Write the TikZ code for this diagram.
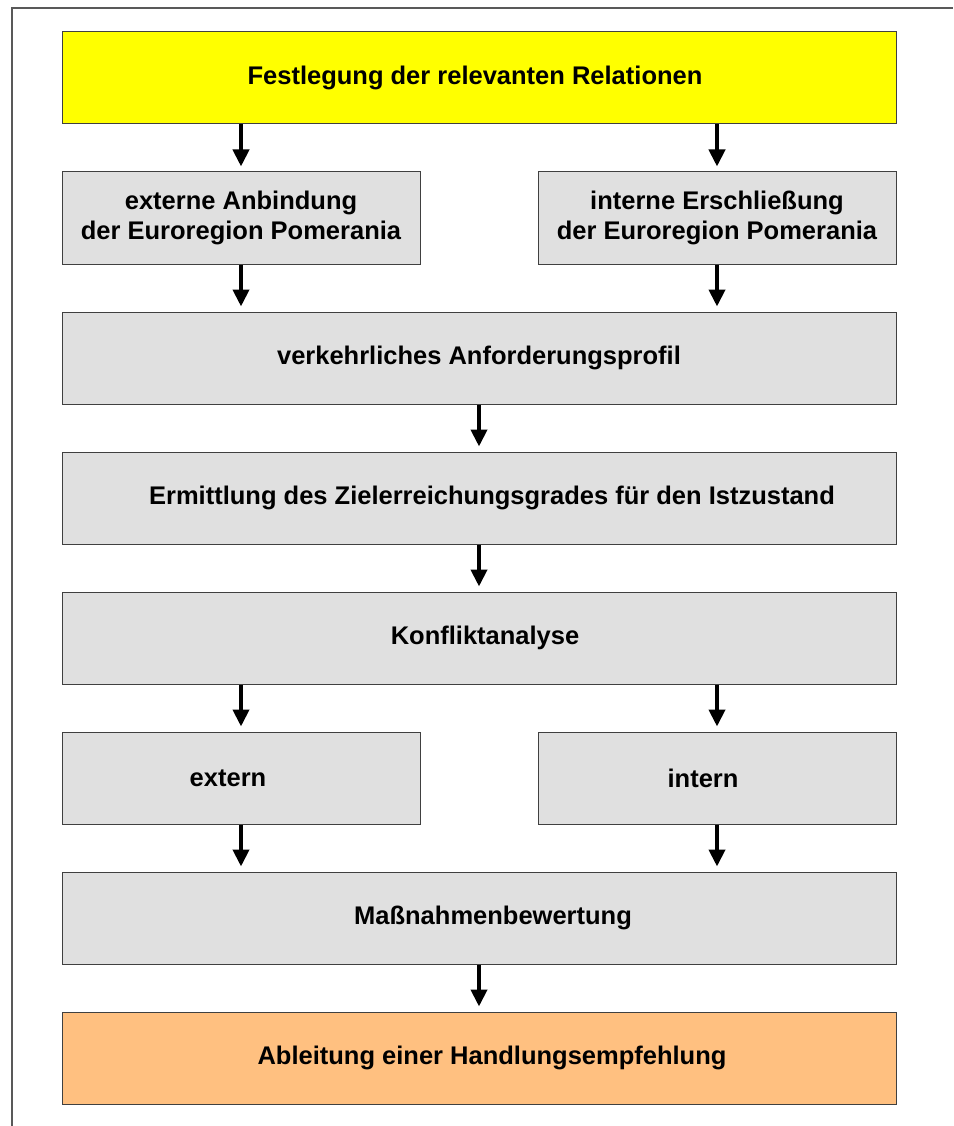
\documentclass[tikz,border=0pt]{standalone}
\usepackage{fontspec}
\setmainfont{Liberation Sans}
\usetikzlibrary{positioning,arrows.meta}
\definecolor{boxgray}{HTML}{E0E0E0}
\definecolor{topyellow}{HTML}{FFFF00}
\definecolor{endorange}{HTML}{FFC080}
\tikzset{
  stage/.style={draw=black!75, line width=1pt, fill=boxgray, minimum height=92pt,
    inner sep=0pt, align=center, font=\fontsize{25.5}{30}\selectfont\bfseries},
  widebox/.style={stage, minimum width=834pt},
  halfbox/.style={stage, minimum width=358pt},
  flow/.style={line width=4pt, -{Triangle[width=16pt,length=17pt]}, shorten >=5pt}
}

\begin{document}
\begin{tikzpicture}[x=1pt, y=-1pt]
    \useasboundingbox (0,0) rectangle (953,1126);
    \draw [black!65, line width=1.3pt] (12,1126) -- (12,8) -- (953,8);

    \node [widebox, fill=topyellow] (festlegung) at (479,78) {Festlegung der relevanten Relationen\hspace*{8pt}};
    \node [halfbox, below=47pt of festlegung.south west, anchor=north west] (extanb) {externe Anbindung\\der Euroregion Pomerania};
    \node [halfbox, below=47pt of festlegung.south east, anchor=north east] (interschl) {interne Erschließung\\der Euroregion Pomerania};
    \node [widebox, below=47pt of extanb.south west, anchor=north west] (profil) {verkehrliches Anforderungsprofil};
    \node [widebox, below=47pt of profil] (ermittlung) {\hspace*{26pt}Ermittlung des Zielerreichungsgrades für den Istzustand};
    \node [widebox, below=47pt of ermittlung] (konflikt) {\hspace*{12pt}Konfliktanalyse};
    \node [halfbox, below=47pt of konflikt.south west, anchor=north west] (extern) {extern\hspace*{26pt}};
    \node [halfbox, below=47pt of konflikt.south east, anchor=north east] (intern) {intern\hspace*{28pt}};
    \node [widebox, below=47pt of extern.south west, anchor=north west] (massnahmen) {\hspace*{28pt}Maßnahmenbewertung};
    \node [widebox, fill=endorange, below=47pt of massnahmen] (ableitung) {\hspace*{26pt}Ableitung einer Handlungsempfehlung};

    \draw [flow] (extanb.north |- festlegung.south) -- (extanb.north);
    \draw [flow] (interschl.north |- festlegung.south) -- (interschl.north);
    \draw [flow] (extanb.south) -- (extanb.south |- profil.north);
    \draw [flow] (interschl.south) -- (interschl.south |- profil.north);
    \draw [flow] (profil.south) -- (ermittlung.north);
    \draw [flow] (ermittlung.south) -- (konflikt.north);
    \draw [flow] (extern.north |- konflikt.south) -- (extern.north);
    \draw [flow] (intern.north |- konflikt.south) -- (intern.north);
    \draw [flow] (extern.south) -- (extern.south |- massnahmen.north);
    \draw [flow] (intern.south) -- (intern.south |- massnahmen.north);
    \draw [flow] (massnahmen.south) -- (ableitung.north);
\end{tikzpicture}
\end{document}
